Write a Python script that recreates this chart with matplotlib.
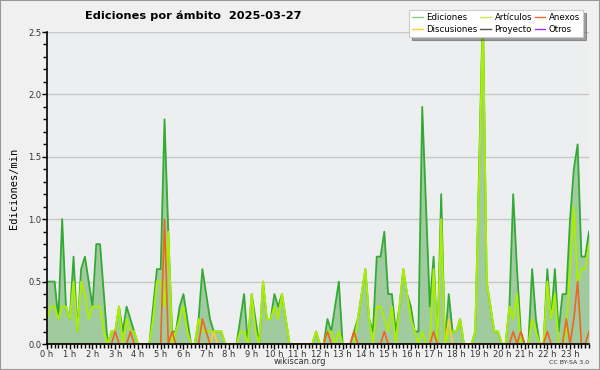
import numpy as np
import matplotlib
matplotlib.use('Agg')
import matplotlib.pyplot as plt
from matplotlib.patches import Rectangle
from matplotlib.ticker import MultipleLocator, FixedLocator

# edits per minute, 10 minute bins, 2025-03-27
ediciones = [0.5, 0.5, 0.5, 0.2, 1.0, 0.3, 0.2, 0.7, 0.1, 0.6, 0.7, 0.5,
             0.3, 0.8, 0.8, 0.4, 0.0, 0.1, 0.1, 0.3, 0.1, 0.3, 0.2, 0.1,
             0.0, 0.0, 0.0, 0.0, 0.3, 0.6, 0.6, 1.8, 0.9, 0.1, 0.1, 0.3,
             0.4, 0.2, 0.0, 0.0, 0.2, 0.6, 0.4, 0.2, 0.1, 0.1, 0.1, 0.0,
             0.0, 0.0, 0.0, 0.2, 0.4, 0.0, 0.4, 0.2, 0.0, 0.5, 0.2, 0.2,
             0.4, 0.3, 0.4, 0.2, 0.0, 0.0, 0.0, 0.0, 0.0, 0.0, 0.0, 0.1,
             0.0, 0.0, 0.2, 0.1, 0.3, 0.5, 0.0, 0.0, 0.0, 0.1, 0.2, 0.4,
             0.6, 0.2, 0.1, 0.7, 0.7, 0.9, 0.4, 0.4, 0.1, 0.3, 0.6, 0.4,
             0.3, 0.1, 0.1, 1.9, 1.1, 0.3, 0.7, 0.0, 1.2, 0.0, 0.4, 0.1,
             0.1, 0.2, 0.0, 0.0, 0.0, 0.1, 1.4, 2.7, 0.5, 0.3, 0.1, 0.1,
             0.0, 0.0, 0.3, 1.2, 0.6, 0.1, 0.0, 0.0, 0.6, 0.2, 0.0, 0.0,
             0.6, 0.2, 0.6, 0.1, 0.4, 0.4, 1.0, 1.4, 1.6, 0.7, 0.7, 0.9]
articulos = [0.2, 0.3, 0.3, 0.2, 0.3, 0.3, 0.2, 0.5, 0.1, 0.5, 0.4, 0.2,
             0.3, 0.3, 0.3, 0.1, 0.0, 0.1, 0.1, 0.3, 0.0, 0.2, 0.1, 0.1,
             0.0, 0.0, 0.0, 0.0, 0.2, 0.5, 0.5, 0.3, 0.9, 0.0, 0.1, 0.2,
             0.3, 0.1, 0.0, 0.0, 0.2, 0.1, 0.1, 0.1, 0.1, 0.1, 0.1, 0.0,
             0.0, 0.0, 0.0, 0.1, 0.1, 0.0, 0.4, 0.1, 0.0, 0.5, 0.2, 0.2,
             0.3, 0.2, 0.4, 0.2, 0.0, 0.0, 0.0, 0.0, 0.0, 0.0, 0.0, 0.1,
             0.0, 0.0, 0.1, 0.1, 0.0, 0.1, 0.0, 0.0, 0.0, 0.0, 0.2, 0.4,
             0.6, 0.2, 0.0, 0.3, 0.3, 0.2, 0.1, 0.3, 0.0, 0.3, 0.6, 0.4,
             0.2, 0.1, 0.0, 0.1, 0.0, 0.0, 0.6, 0.0, 1.0, 0.0, 0.1, 0.1,
             0.1, 0.2, 0.0, 0.0, 0.0, 0.1, 1.3, 2.6, 0.5, 0.3, 0.1, 0.1,
             0.0, 0.0, 0.3, 0.2, 0.4, 0.0, 0.0, 0.0, 0.2, 0.1, 0.0, 0.0,
             0.5, 0.2, 0.4, 0.0, 0.0, 0.1, 0.6, 1.1, 0.5, 0.6, 0.6, 0.8]
# sparse series: bin index -> value
anexos_pts = {18: 0.1, 22: 0.1, 31: 1.0, 33: 0.1, 41: 0.2, 42: 0.1, 74: 0.1,
              81: 0.1, 89: 0.1, 102: 0.1, 123: 0.1, 125: 0.1, 132: 0.1,
              137: 0.2, 139: 0.2, 140: 0.5, 143: 0.1}
discusiones_pts = {44: 0.1, 106: 0.2}

n = len(ediciones)
anexos = np.zeros(n)
for k, v in anexos_pts.items(): anexos[k] = v
discusiones = np.zeros(n)
for k, v in discusiones_pts.items(): discusiones[k] = v
proyecto = np.zeros(n)
otros = np.zeros(n)

hours = np.arange(n) / 6.0
hour_labels = ['%d h' % h for h in range(24)]

c_ed_line = '#33aa33'
c_ed_fill = '#9fcb9f'
c_art = '#aaee00'
c_anx = '#ee6622'
c_disc = '#ffcc33'
c_proy = '#555555'
c_otros = '#9933ee'

f = plt.figure(figsize=(6, 3.7), dpi=100)
f.patch.set_facecolor('#f0f0f0')
ax = plt.axes([47/600., 1-344/370., 542/600., 312/370.])
ax.set_facecolor('#edeef0')

ax.fill_between(hours, ediciones, color=c_ed_fill, lw=0, zorder=2)
ax.plot(hours, ediciones, color=c_ed_line, lw=1.3, zorder=3)
ax.plot(hours, otros, color=c_otros, lw=1, zorder=3)
ax.plot(hours, proyecto, color=c_proy, lw=1, zorder=3)
ax.plot(hours, discusiones, color=c_disc, lw=1.2, zorder=4)
ax.plot(hours, articulos, color=c_art, lw=1.4, zorder=4)
ax.plot(hours, anexos, color=c_anx, lw=1.2, zorder=5)

ax.set_xlim(0, hours[-1])
ax.set_ylim(0, 2.5)
ax.yaxis.set_major_locator(MultipleLocator(0.5))
ax.yaxis.set_minor_locator(MultipleLocator(0.1))
ax.yaxis.set_major_formatter(matplotlib.ticker.FormatStrFormatter('%.1f'))
ax.xaxis.set_major_locator(FixedLocator(range(24)))
ax.xaxis.set_minor_locator(MultipleLocator(1/6.))
ax.set_xticklabels(hour_labels)
ax.grid(axis='y', color='#c8c8c8', lw=1, zorder=1)
ax.set_axisbelow(True)
for s in ['top', 'right']: ax.spines[s].set_visible(False)
ax.spines['left'].set_linewidth(1.2)
ax.spines['bottom'].set_linewidth(1.2)
ax.spines['left'].set_zorder(6)
ax.spines['bottom'].set_zorder(6)
ax.tick_params(which='both', direction='out', length=3.5, width=1, color='k',
               labelsize=6, labelcolor='#333333', pad=0.5)
ax.tick_params(which='minor', length=3)
ax.set_ylabel('Ediciones/min', family='DejaVu Sans Mono', fontsize=7.5, labelpad=7)

f.text(85/600., 1-16/370., 'Ediciones por ámbito  2025-03-27', fontsize=8.2,
       fontweight='bold', ha='left', va='center')
f.text(300/600., 1-362/370., 'wikiscan.org', fontsize=6, ha='center', va='center',
       color='#333333')
f.text(589/600., 1-362/370., 'CC BY-SA 3.0', fontsize=4.5, ha='right', va='center',
       color='#333333')

# legend, columns filled top to bottom
hl = [plt.Line2D([], [], color='#88cc88', lw=1),
      plt.Line2D([], [], color=c_disc, lw=1),
      plt.Line2D([], [], color='#ccee44', lw=1),
      plt.Line2D([], [], color=c_proy, lw=1),
      plt.Line2D([], [], color=c_anx, lw=1),
      plt.Line2D([], [], color=c_otros, lw=1)]
lab = ['Ediciones', 'Discusiones', 'Artículos', 'Proyecto', 'Anexos', 'Otros']
leg = f.legend(hl, lab, ncol=3, loc='upper right', bbox_to_anchor=(583/600., 1-10/370.),
               prop={'size': 6.2}, frameon=True, fancybox=False, shadow=True,
               handlelength=1.2, handletextpad=0.45, columnspacing=0.3,
               labelspacing=0.4, borderpad=0.35, borderaxespad=0)
leg.get_frame().set_edgecolor('#cccccc')
leg.get_frame().set_facecolor('white')
leg.get_frame().set_linewidth(0.8)

f.patches.append(Rectangle((0, 0), 1, 1, transform=f.transFigure, fill=False,
                           edgecolor='#999999', lw=1.5))

plt.savefig('out.png', dpi=100, facecolor=f.get_facecolor())
plt.close(f)
